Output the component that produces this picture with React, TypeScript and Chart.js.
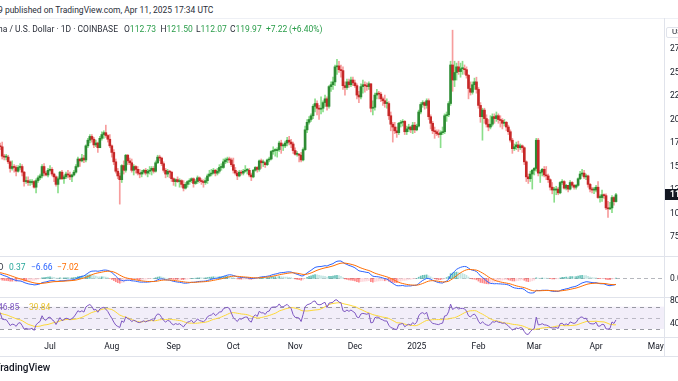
import React, { useEffect, useRef } from "react";
import { Chart, registerables } from "chart.js";
Chart.register(...registerables);

// Daily candles, each entry [high, low, close]; open = previous close
const may24 = [
  [141,127,135],[144,132,143],[148,140,147],[149,144,145],[147,141,146],[150,140,141],[148,140,144],[150,142,147],[153,146,151],[153,144,145],
  [147,142,145],[148,143,147],[149,142,146],[147,141,146],[162,145,160],[166,158,164],[173,162,171],[175,169,173],[175,167,170],[187,168,186],
  [189,176,180],[182,173,176],[181,165,174],[178,170,177],[178,168,170],[172,163,166],[172,164,167],[170,163,168],[170,164,167],[169,162,166],
  [170,163,167],
];
const jun24 = [
  [170,164,167],[168,158,161],[172,160,170],[174,168,172],[176,170,172],[175,168,171],[176,158,161],[163,157,160],[163,157,160],[162,153,155],
  [156,144,148],[156,146,150],[152,144,149],[151,140,145],[151,144,149],[153,147,150],[152,140,144],[145,129,134],[139,132,135],[139,130,133],
  [136,130,133],[136,131,134],[135,127,128],[137,122,135],[140,133,138],[142,136,140],[152,138,150],[153,140,143],[145,140,141],[148,139,146],
];
const jul24 = [
  [151,145,147],[149,140,142],[143,134,139],[140,129,131],[139,122,137],[145,136,144],[146,136,137],[141,132,139],[144,137,142],[146,138,141],
  [144,136,139],[142,134,141],[146,140,144],[152,143,150],[160,149,158],[158,150,156],[163,155,159],[162,154,157],[173,155,172],[180,170,178],
  [184,175,182],[184,176,179],[181,170,173],[178,171,175],[176,165,170],[182,170,180],[187,178,184],[188,180,186],[194,181,183],[184,176,179],
  [184,170,172],
];
const aug24 = [
  [173,160,165],[168,152,155],[158,143,145],[148,137,140],[143,110,136],[152,133,151],[156,142,146],[163,144,162],[163,152,156],[159,152,154],
  [158,144,146],[152,141,150],[151,143,147],[150,141,143],[147,138,142],[146,139,144],[147,142,146],[148,141,143],[147,139,145],[150,142,146],
  [150,141,148],[150,143,145],[156,144,154],[162,153,160],[162,156,159],[160,151,153],[155,144,146],[148,138,142],[147,139,145],[146,138,144],
  [145,134,137],
];
const sep24 = [
  [138,130,134],[137,129,136],[139,133,134],[137,128,135],[136,128,131],[135,124,127],[133,126,131],[135,128,134],[137,131,135],[138,133,137],
  [138,128,132],[136,131,134],[140,132,138],[139,133,135],[137,131,134],[136,128,133],[138,131,135],[142,132,140],[146,139,142],[147,140,143],
  [148,142,146],[147,140,143],[148,141,145],[152,143,149],[153,146,149],[158,148,155],[159,153,157],[160,154,158],[160,154,157],[159,150,152],
];
const oct24 = [
  [159,143,146],[149,141,143],[145,136,140],[146,139,144],[146,141,143],[147,141,145],[151,144,146],[148,142,146],[148,139,141],[143,135,139],
  [147,138,146],[150,145,149],[150,144,147],[157,145,156],[158,148,154],[157,150,154],[155,149,152],[158,151,157],[160,155,158],[167,157,166],
  [171,163,167],[169,161,167],[170,160,168],[177,166,175],[178,164,172],[174,167,172],[177,170,175],[181,172,178],[182,173,176],[179,170,174],
  [176,164,167],
];
const nov24 = [
  [170,162,163],[166,161,163],[164,155,162],[165,155,157],[170,156,168],[193,167,189],[200,186,197],[203,195,200],[206,198,204],[216,201,214],
  [222,208,217],[220,205,212],[215,200,211],[224,206,212],[220,208,218],[226,214,222],[224,210,214],[236,212,235],[240,230,237],[245,232,240],
  [258,236,256],[264,248,257],[262,250,253],[258,245,252],[256,232,236],[240,226,234],[243,232,240],[243,234,237],[245,235,242],[245,236,239],
];
const dec24 = [
  [242,234,236],[238,222,226],[230,218,224],[238,222,235],[242,228,237],[240,229,236],[239,231,235],[240,232,238],[238,208,212],[220,205,213],
  [228,210,226],[232,222,228],[230,222,227],[229,219,222],[224,215,220],[226,213,217],[222,212,217],[219,200,204],[208,188,195],[197,176,192],
  [197,185,188],[192,181,186],[197,184,196],[199,192,197],[200,193,198],[199,184,187],[193,184,190],[195,187,192],[193,186,189],[197,185,194],
  [197,186,189],
];
const jan25 = [
  [195,188,193],[210,192,208],[218,206,216],[220,213,218],[219,211,215],[222,212,220],[222,200,203],[205,190,196],[198,185,188],[192,180,187],
  [189,183,185],[189,181,184],[188,170,186],[192,184,187],[206,185,204],[208,198,205],[219,203,217],[262,215,258],[295,230,242],[262,235,250],
  [260,242,256],[262,248,251],[260,245,254],[262,248,254],[258,248,253],[256,244,247],[248,222,233],[240,226,229],[240,227,237],[244,232,240],
  [245,228,232],
];
const feb25 = [
  [234,212,215],[218,197,203],[212,178,210],[212,196,201],[205,192,195],[200,188,192],[204,190,195],[206,193,203],[206,196,201],[208,198,204],
  [206,196,200],[204,192,199],[201,190,196],[200,193,197],[198,188,192],[194,184,187],[189,176,178],[180,164,169],[174,167,171],[176,168,173],
  [177,166,170],[174,168,172],[173,165,170],[171,152,155],[156,134,139],[142,132,137],[145,134,142],[147,126,146],
];
const mar25 = [
  [149,141,148],[180,145,178],[180,140,143],[146,133,144],[148,140,147],[150,139,141],[150,136,140],[142,133,136],[137,125,128],[133,121,125],
  [128,112,125],[129,120,126],[128,120,122],[134,121,133],[136,131,134],[135,126,127],[131,125,130],[130,123,126],[135,125,133],[134,128,130],
  [131,126,128],[131,126,130],[138,129,137],[145,136,142],[147,140,143],[146,137,139],[142,136,140],[141,128,131],[132,123,126],[128,122,125],
  [128,121,125],
];
const apr25 = [
  [130,123,128],[134,116,117],[120,112,117],[125,113,120],[121,116,119],[121,104,106],[113,96,105],[112,104,106],[119,101,117],[118,109,112.73],
  [121.5,112.07,119.97],
];

const dailyMonths = [may24, jun24, jul24, aug24, sep24, oct24, nov24, dec24, jan25, feb25, mar25, apr25];
const FIRST_DAY = -61; // May 1, 2024 counted in days from Jul 1, 2024

const priceTicks = [75, 100, 125, 150, 175, 200, 225, 250, 275];
const macdTicks = [0];
const rsiTicks = [80, 40];
const rsiLevels = [70, 50, 30];
const monthDays = [0, 31, 62, 92, 123, 153, 184, 215, 243, 274, 304];
const monthNames = ["Jul", "Aug", "Sep", "Oct", "Nov", "Dec", "2025", "Feb", "Mar", "Apr", "May"];

const lastClose = 119.97;
const ohlcLegend = [["O", "112.73"], ["H", "121.50"], ["L", "112.07"], ["C", "119.97"]];
const changeLegend = ["+7.22", "(+6.40%)"];
const macdLegend = ["0.37", "\u22126.66", "\u22127.02"];
const rsiLegend = ["46.85", "39.84"];

// ---------- layout / style constants ----------
const CANVAS_W = 700;
const AXIS_W = 36;
const X_MIN = -25.1;
const X_MAX = 308.1;
const PRICE_MIN = 55.9;
const PRICE_MAX = 306.9;
const RSI_MIN = 15.6;
const RSI_MAX = 85.6;
const FONT = "Roboto, 'Noto Sans', sans-serif";
const TEXT = "#131722";
const LINE = "#e0e3eb";
const UP_BODY = "#2e8b34";
const DOWN_BODY = "#c62828";
const UP_WICK = "rgba(60,200,60,0.6)";
const DOWN_WICK = "rgba(240,60,60,0.5)";
const GREEN_TXT = "#2a9d4a";

// ---------- derived series ----------
const rows = dailyMonths.flat();
const xs = rows.map((_, i) => i + FIRST_DAY);
const closes = rows.map((r) => r[2]);
const opens = closes.map((c, i) => (i === 0 ? c : closes[i - 1]));

function ema(src: (number | null)[], n: number): (number | null)[] {
  const out: (number | null)[] = [];
  const k = 2 / (n + 1);
  let prev: number | null = null;
  const seed: number[] = [];
  for (const v of src) {
    if (v == null) { out.push(null); continue; }
    if (prev == null) {
      seed.push(v);
      if (seed.length === n) { prev = seed.reduce((a, b) => a + b, 0) / n; out.push(prev); }
      else out.push(null);
    } else {
      prev = v * k + prev * (1 - k);
      out.push(prev);
    }
  }
  return out;
}
function sma(src: (number | null)[], n: number): (number | null)[] {
  return src.map((_, i) => {
    if (i < n - 1) return null;
    const win = src.slice(i - n + 1, i + 1);
    if (win.some((v) => v == null)) return null;
    return (win as number[]).reduce((a, b) => a + b, 0) / n;
  });
}
function rsi(src: number[], n: number): (number | null)[] {
  const out: (number | null)[] = [null];
  let ag = 0, al = 0;
  for (let i = 1; i < src.length; i++) {
    const ch = src[i] - src[i - 1];
    const g = Math.max(ch, 0), l = Math.max(-ch, 0);
    if (i <= n) {
      ag += g / n; al += l / n;
      out.push(i === n ? (al === 0 ? 100 : 100 - 100 / (1 + ag / al)) : null);
    } else {
      ag = (ag * (n - 1) + g) / n; al = (al * (n - 1) + l) / n;
      out.push(al === 0 ? 100 : 100 - 100 / (1 + ag / al));
    }
  }
  return out;
}

const ema12 = ema(closes, 12);
const ema26 = ema(closes, 26);
const macd = closes.map((_, i) => (ema12[i] != null && ema26[i] != null ? (ema12[i] as number) - (ema26[i] as number) : null));
const signal = ema(macd, 9);
const hist = macd.map((m, i) => (m != null && signal[i] != null ? m - (signal[i] as number) : null));
const histColors = hist.map((h, i) => {
  const p = i > 0 ? hist[i - 1] : null;
  if (h == null) return "rgba(0,0,0,0)";
  const rising = p != null && p < h;
  return h >= 0 ? (rising ? "rgba(38,166,154,0.7)" : "rgba(178,223,219,0.8)") : (rising ? "rgba(255,205,210,0.8)" : "rgba(255,82,82,0.7)");
});
const rsiVals = rsi(closes, 14);
const rsiMa = sma(rsiVals, 14);

const visIdx = xs.map((x, i) => (x >= X_MIN ? i : -1)).filter((i) => i >= 0);
const macdVis = visIdx.flatMap((i) => [macd[i], signal[i], hist[i]]).filter((v) => v != null) as number[];
const macdLo = Math.min(...macdVis);
const macdHi = Math.max(...macdVis);
const MACD_H = 40;
const macdPpu = (MACD_H - 8) / (macdHi - macdLo);
const MACD_MIN = macdLo - 4 / macdPpu;
const MACD_MAX = macdHi + 4 / macdPpu;

// ---------- chart helpers ----------
function xHidden() {
  return { type: "linear", min: X_MIN, max: X_MAX, offset: false, display: false, grid: { offset: false } };
}
function yAxis(min: number, max: number, ticks: number[], fmt: (v: number) => string) {
  return {
    type: "linear",
    position: "right",
    min,
    max,
    grid: { display: false, drawTicks: false },
    border: { display: false },
    afterBuildTicks: (s: any) => { s.ticks = ticks.map((v) => ({ value: v })); },
    afterFit: (s: any) => { s.width = AXIS_W; s.paddingTop = 0; s.paddingBottom = 0; },
    ticks: { padding: 6, color: TEXT, font: { family: FONT, size: 8.5 }, autoSkip: false, callback: (v: any) => fmt(Number(v)) },
  };
}
const baseOptions = {
  responsive: false,
  maintainAspectRatio: false,
  animation: false,
  devicePixelRatio: 1,
  events: [],
  layout: { padding: 0 },
  plugins: { legend: { display: false }, tooltip: { enabled: false } },
};

function mainConfig(): any {
  const bodies = xs.map((x, i) => ({ x, y: [opens[i], closes[i]] }));
  const wicks = xs.map((x, i) => ({ x, y: [rows[i][1], rows[i][0]] }));
  const up = closes.map((c, i) => c >= opens[i]);
  const lastPricePlugin = {
    id: "lastPrice",
    afterDraw(chart: any) {
      const { ctx, chartArea } = chart;
      const y = chart.scales.y.getPixelForValue(lastClose);
      ctx.save();
      ctx.fillStyle = TEXT;
      ctx.fillRect(chartArea.right + 1, Math.round(y - 5.5), 40, 11);
      ctx.fillStyle = "#ffffff";
      ctx.font = `bold 8.5px ${FONT}`;
      ctx.textBaseline = "middle";
      ctx.fillText(lastClose.toFixed(2), chartArea.right + 6, y + 0.5);
      ctx.restore();
    },
  };
  return {
    type: "bar",
    data: {
      datasets: [
        { type: "bar", data: bodies, backgroundColor: up.map((u) => (u ? UP_BODY : DOWN_BODY)), barThickness: 2, grouped: false, minBarLength: 1, borderWidth: 0, order: 0 },
        { type: "bar", data: wicks, backgroundColor: up.map((u) => (u ? UP_WICK : DOWN_WICK)), barThickness: 1, grouped: false, borderWidth: 0, order: 1 },
      ],
    },
    options: {
      ...baseOptions,
      scales: { x: xHidden(), y: yAxis(PRICE_MIN, PRICE_MAX, priceTicks, (v) => v.toFixed(2)) },
    },
    plugins: [lastPricePlugin],
  };
}

function macdConfig(): any {
  const zeroPlugin = {
    id: "zeroLine",
    beforeDatasetsDraw(chart: any) {
      const { ctx, chartArea } = chart;
      const y = Math.round(chart.scales.y.getPixelForValue(0)) + 0.5;
      ctx.save();
      ctx.strokeStyle = "rgba(120,123,134,0.55)";
      ctx.setLineDash([4, 3]);
      ctx.lineWidth = 1;
      ctx.beginPath();
      ctx.moveTo(chartArea.left, y);
      ctx.lineTo(chartArea.right, y);
      ctx.stroke();
      ctx.restore();
    },
  };
  return {
    type: "bar",
    data: {
      datasets: [
        { type: "line", data: xs.map((x, i) => ({ x, y: signal[i] })), borderColor: "#ff6d00", borderWidth: 1, pointRadius: 0, order: 0 },
        { type: "line", data: xs.map((x, i) => ({ x, y: macd[i] })), borderColor: "#2962ff", borderWidth: 1, pointRadius: 0, order: 1 },
        { type: "bar", data: xs.map((x, i) => ({ x, y: hist[i] })), backgroundColor: histColors, barThickness: 1, grouped: false, borderWidth: 0, order: 2 },
      ],
    },
    options: {
      ...baseOptions,
      scales: { x: xHidden(), y: yAxis(MACD_MIN, MACD_MAX, macdTicks, (v) => v.toFixed(2)) },
    },
    plugins: [zeroPlugin],
  };
}

function rsiConfig(): any {
  const bandPlugin = {
    id: "rsiBand",
    beforeDatasetsDraw(chart: any) {
      const { ctx, chartArea } = chart;
      const ys = chart.scales.y;
      const yTop = ys.getPixelForValue(rsiLevels[0]);
      const yBot = ys.getPixelForValue(rsiLevels[2]);
      ctx.save();
      ctx.fillStyle = "rgba(126,87,194,0.1)";
      ctx.fillRect(chartArea.left, yTop, chartArea.right - chartArea.left, yBot - yTop);
      ctx.lineWidth = 1;
      rsiLevels.forEach((lv, k) => {
        const y = Math.round(ys.getPixelForValue(lv)) + 0.5;
        ctx.strokeStyle = k === 1 ? "rgba(120,123,134,0.45)" : "rgba(120,123,134,0.75)";
        ctx.setLineDash([4, 4]);
        ctx.beginPath();
        ctx.moveTo(chartArea.left, y);
        ctx.lineTo(chartArea.right, y);
        ctx.stroke();
      });
      ctx.restore();
    },
  };
  return {
    type: "line",
    data: {
      datasets: [
        { data: xs.map((x, i) => ({ x, y: rsiVals[i] })), borderColor: "#7e57c2", borderWidth: 1, pointRadius: 0, order: 0 },
        { data: xs.map((x, i) => ({ x, y: rsiMa[i] })), borderColor: "#fdd835", borderWidth: 1, pointRadius: 0, order: 1 },
      ],
    },
    options: {
      ...baseOptions,
      layout: { padding: { top: 4 } },
      scales: {
        x: {
          type: "linear",
          min: X_MIN,
          max: X_MAX,
          offset: false,
          position: "bottom",
          grid: { display: false, drawTicks: false },
          border: { display: false },
          afterBuildTicks: (s: any) => { s.ticks = monthDays.map((v) => ({ value: v })); },
          afterFit: (s: any) => { s.height = 19; s.paddingLeft = 0; s.paddingRight = 0; },
          ticks: {
            autoSkip: false,
            maxRotation: 0,
            minRotation: 0,
            padding: 5,
            color: TEXT,
            font: { family: FONT, size: 8.5 },
            callback: (_v: any, i: number) => monthNames[i],
          },
        },
        y: yAxis(RSI_MIN, RSI_MAX, rsiTicks, (v) => v.toFixed(2)),
      },
    },
    plugins: [bandPlugin],
  };
}

function Txt(props: { x?: number; right?: number; y: number; color?: string; size?: number; weight?: number; children: React.ReactNode }) {
  const size = props.size ?? 8.5;
  const style: React.CSSProperties = {
    position: "absolute",
    top: props.y - 6,
    lineHeight: "12px",
    height: 12,
    fontSize: size,
    fontWeight: props.weight ?? 400,
    color: props.color ?? TEXT,
    whiteSpace: "nowrap",
    fontFamily: FONT,
  };
  if (props.right != null) style.right = 678 - props.right;
  else style.left = props.x;
  return <div style={style}>{props.children}</div>;
}

function HLine({ y, color = LINE }: { y: number; color?: string }) {
  return <div style={{ position: "absolute", left: 0, top: y, width: 678, height: 1, background: color }} />;
}

export default function App() {
  const mainRef = useRef<HTMLCanvasElement>(null);
  const macdRef = useRef<HTMLCanvasElement>(null);
  const rsiRef = useRef<HTMLCanvasElement>(null);

  useEffect(() => {
    const charts = [
      new Chart(mainRef.current as HTMLCanvasElement, mainConfig()),
      new Chart(macdRef.current as HTMLCanvasElement, macdConfig()),
      new Chart(rsiRef.current as HTMLCanvasElement, rsiConfig()),
    ];
    return () => charts.forEach((c) => c.destroy());
  }, []);

  const ohlcX = [124, 160.5, 196, 230];
  return (
    <div style={{ position: "fixed", left: 0, top: 0, width: 678, height: 381, overflow: "hidden", background: "#ffffff", fontFamily: FONT }}>
      <HLine y={18} color="#eef0f5" />
      <HLine y={256} />
      <HLine y={297} />
      <HLine y={337} />
      <HLine y={356} />
      <div style={{ position: "absolute", left: 664, top: 18, width: 1, height: 338, background: LINE }} />

      <canvas ref={mainRef} width={CANVAS_W} height={236} style={{ position: "absolute", left: 0, top: 19, width: CANVAS_W, height: 236 }} />
      <canvas ref={macdRef} width={CANVAS_W} height={MACD_H} style={{ position: "absolute", left: 0, top: 257, width: CANVAS_W, height: MACD_H }} />
      <canvas ref={rsiRef} width={CANVAS_W} height={62} style={{ position: "absolute", left: 0, top: 294, width: CANVAS_W, height: 62 }} />

      <Txt x={-2} y={10} color="#2a2e39">9 published on TradingView.com, Apr 11, 2025 17:34 UTC</Txt>
      <Txt right={118} y={29} color="#2a2e39">Solana / U.S. Dollar · 1D · COINBASE</Txt>
      {ohlcLegend.map(([k, v], i) => (
        <Txt key={k} x={ohlcX[i]} y={29} color={GREEN_TXT}>
          <span style={{ color: "#2a2e39" }}>{k}</span>{v}
        </Txt>
      ))}
      <Txt x={266} y={29} color={GREEN_TXT}>{changeLegend[0]}</Txt>
      <Txt x={289} y={29} color={GREEN_TXT}>{changeLegend[1]}</Txt>

      <div style={{ position: "absolute", left: 666, top: 27, width: 30, height: 9, border: `1px solid ${LINE}`, borderRadius: 2, background: "#fff" }} />
      <Txt x={672} y={32} size={8}>USD</Txt>

      <Txt right={3.5} y={267} color="#2a2e39">MACD</Txt>
      <Txt x={9} y={267} color="#26a69a">{macdLegend[0]}</Txt>
      <Txt x={31} y={267} color="#2962ff">{macdLegend[1]}</Txt>
      <Txt x={57} y={267} color="#ff6d00">{macdLegend[2]}</Txt>

      <Txt x={-2} y={307} color="#7e57c2">{rsiLegend[0]}</Txt>
      <Txt x={29} y={307} color="#e8c22e">{rsiLegend[1]}</Txt>

      <Txt x={-5.5} y={368} size={10} weight={500}>TradingView</Txt>
    </div>
  );
}
